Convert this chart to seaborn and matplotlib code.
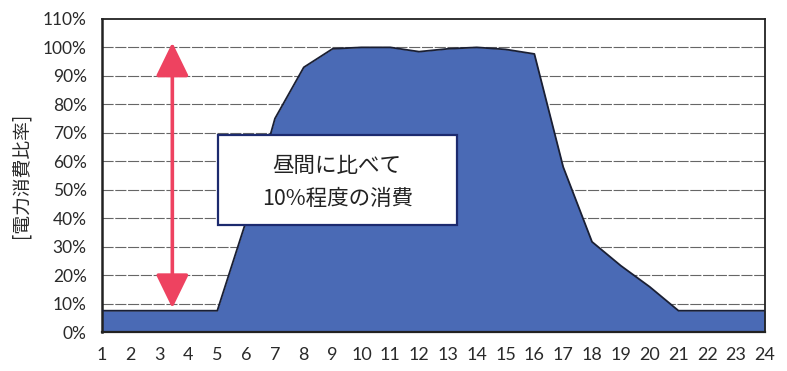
import matplotlib
matplotlib.use("Agg")
import matplotlib.pyplot as plt
import seaborn as sns
import pandas as pd
from matplotlib.ticker import FuncFormatter
from matplotlib.patches import FancyArrowPatch, Rectangle

sns.set_theme(style="white")
plt.rcParams['font.family'] = ['Noto Sans CJK JP', 'DejaVu Sans']

# Hourly power consumption ratio (% of daytime peak)
hours = list(range(1, 25))
ratio = [7.5, 7.5, 7.5, 7.5, 7.5, 39, 75, 93, 99.5, 100, 100, 98.5,
         99.5, 100, 99.3, 97.7, 58, 31.7, 23.3, 15.9, 7.5, 7.5, 7.5, 7.5]
y_ticks = list(range(0, 111, 10))
y_label = "[電力消費比率]"
note_lines = ["昼間に比べて", "10%程度の消費"]
night_level = 7.5
peak_level = 100

df = pd.DataFrame({"hour": hours, "ratio": ratio})

fig = plt.figure(figsize=(7.87, 3.71), dpi=100)
ax = fig.add_axes([0.1296, 0.105, 0.8424, 0.844])

ax.fill_between(df["hour"], df["ratio"], 0, color="#4a6ab5", zorder=2, linewidth=0)
sns.lineplot(data=df, x="hour", y="ratio", ax=ax, color="#1a1f33", linewidth=1.3, zorder=3)

ax.set_xlim(1, 24)
ax.set_ylim(0, 110)
ax.set_xticks(hours)
ax.set_yticks(y_ticks)
ax.yaxis.set_major_formatter(FuncFormatter(lambda v, p: f"{int(v)}%"))
ax.tick_params(axis="x", pad=11, labelsize=13, colors="#2a2a2a", length=0)
ax.tick_params(axis="y", pad=11, labelsize=12.5, colors="#2a2a2a", length=0)
for lbl in ax.get_xticklabels() + ax.get_yticklabels():
    lbl.set_family(["Lato", "DejaVu Sans"])
ax.set_xlabel("")
ax.set_ylabel(y_label, fontsize=13.5, color="#2a2a2a", labelpad=8)

for v in y_ticks[1:-1]:
    ax.axhline(v, color="#666666", linewidth=0.8, linestyle=(0, (10, 1.5)), zorder=1)

for side in ["left", "right", "top", "bottom"]:
    ax.spines[side].set_visible(True)
    ax.spines[side].set_color("#222222")
    ax.spines[side].set_linewidth(1.3)
ax.spines["left"].set_linewidth(1.8)
ax.spines["bottom"].set_linewidth(1.6)

# Double-headed arrow spanning night level to peak
arrow = FancyArrowPatch((3.44, night_level + 0.9), (3.44, peak_level + 1.7),
                        arrowstyle="<|-|>,head_length=8,head_width=3.9",
                        mutation_scale=2.6, color="#ee4260", linewidth=2.6,
                        zorder=5, shrinkA=0, shrinkB=0)
ax.add_patch(arrow)

# Callout box
box = Rectangle((5.02, 37.6), 8.28, 31.6, facecolor="white", edgecolor="#1c2a6e",
                linewidth=1.6, zorder=4)
ax.add_patch(box)
ax.text(9.16, 58.3, note_lines[0], ha="center", va="center", fontsize=15.5,
        color="#222222", zorder=6)
ax.text(9.16, 46.6, note_lines[1], ha="center", va="center", fontsize=15.5,
        color="#222222", zorder=6)

fig.savefig("out.png", dpi=100)
